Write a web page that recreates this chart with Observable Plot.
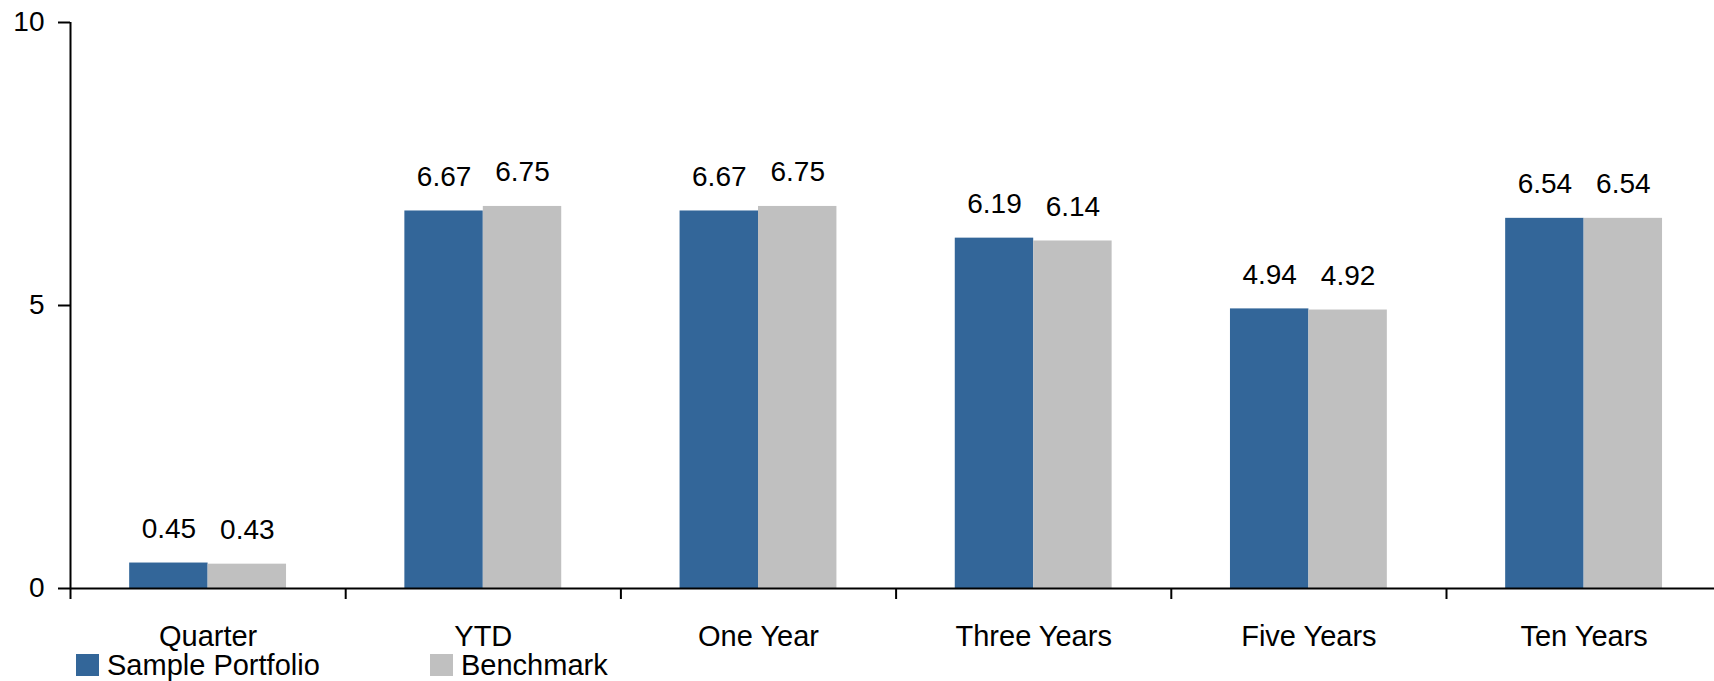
<!DOCTYPE html>
<html>
<head>
<meta charset="utf-8">
<script src="https://cdn.jsdelivr.net/npm/d3@7"></script>
<script src="https://cdn.jsdelivr.net/npm/@observablehq/plot@0.6"></script>
<style>
  body { margin: 0; background: #fff; font-family: "Liberation Sans", Arial, sans-serif; }
  #wrap { position: relative; width: 1714px; height: 681px; }
  #legend { position: absolute; left: 0; top: 650px; display: flex; align-items: center; height: 30px; padding-left: 76px; font-size: 29px; color: #000; }
  .item { display: flex; align-items: center; }
  .sw { width: 23px; height: 22px; margin-right: 8px; }
</style>
</head>
<body>
<div id="wrap">
<div id="chart"></div>
<div id="legend"></div>
</div>
<script>
const categories = ["Quarter", "YTD", "One Year", "Three Years", "Five Years", "Ten Years"];
const portfolio = [0.45, 6.67, 6.67, 6.19, 4.94, 6.54];
const benchmark = [0.43, 6.75, 6.75, 6.14, 4.92, 6.54];
const seriesNames = ["Sample Portfolio", "Benchmark"];
const yTicks = [0, 5, 10];

const colors = {"Sample Portfolio": "#336699", "Benchmark": "#C0C0C0"};
const bw = 0.285;

const rows = [];
categories.forEach((c, i) => {
  rows.push({cat: c, i, series: seriesNames[0], value: portfolio[i], x1: i + 0.5 - bw, x2: i + 0.5});
  rows.push({cat: c, i, series: seriesNames[1], value: benchmark[i], x1: i + 0.5, x2: i + 0.5 + bw});
});

const bandX = categories.map((c, i) => i + 0.5);
const bounds = d3.range(categories.length + 1);

const plot = Plot.plot({
  width: 1714,
  height: 681,
  marginTop: 22,
  marginBottom: 93,
  marginLeft: 70,
  marginRight: 0,
  style: {fontFamily: "'Liberation Sans', Arial, sans-serif", color: "#000", background: "transparent", overflow: "visible"},
  x: {domain: [0, categories.length], range: [70, 70 + 6 * 275.2]},
  y: {domain: [0, 10]},
  marks: [
    Plot.rectY(rows, {x1: "x1", x2: "x2", y: "value", fill: d => colors[d.series]}),
    Plot.text(rows, {x: d => (d.x1 + d.x2) / 2, y: "value", text: d => d.value.toFixed(2), dy: -34, fontSize: 28, fill: "#000"}),
    Plot.ruleY([0], {stroke: "#000", strokeWidth: 2}),
    Plot.ruleX([0], {stroke: "#000", strokeWidth: 2}),
    Plot.axisY({ticks: yTicks, tickSize: 12, tickPadding: 14, fontSize: 28, stroke: "#000", strokeWidth: 2, label: null, tickFormat: d => String(d)}),
    Plot.axisX({ticks: bounds, tickSize: 11, tickFormat: () => "", stroke: "#000", strokeWidth: 2, label: null}),
    Plot.axisX({ticks: bandX, tickSize: 0, tickPadding: 37, fontSize: 29, label: null, tickFormat: d => categories[Math.round(d - 0.5)]})
  ]
});
document.getElementById("chart").appendChild(plot);

const legend = document.getElementById("legend");
seriesNames.forEach((s, k) => {
  const it = document.createElement("div");
  it.className = "item";
  if (k === 0) it.style.width = "354px";
  const sw = document.createElement("div");
  sw.className = "sw";
  sw.style.background = colors[s];
  const t = document.createElement("span");
  t.textContent = s;
  it.appendChild(sw);
  it.appendChild(t);
  legend.appendChild(it);
});
</script>
</body>
</html>
